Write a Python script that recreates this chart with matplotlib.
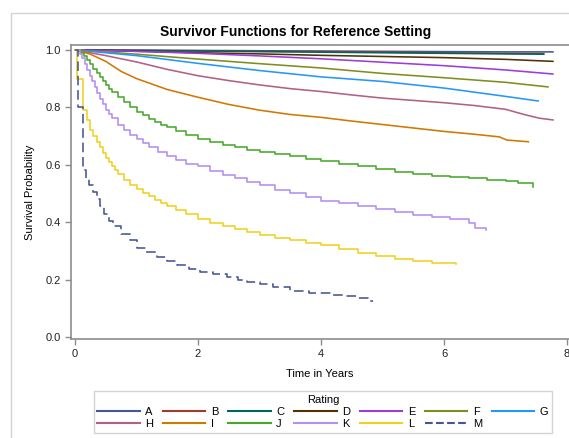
"""Survivor functions by rating (reference setting) - step curves."""
import matplotlib
matplotlib.use("Agg")
import matplotlib.pyplot as plt
from matplotlib.lines import Line2D
from matplotlib.patches import Rectangle

plt.rcParams["font.family"] = ["Liberation Sans", "DejaVu Sans"]

RATINGS = ["A", "B", "C", "D", "E", "F", "G", "H", "I", "J", "K", "L", "M"]
COLORS = ["#445694", "#A23A2E", "#01665E", "#543005", "#9D3CDB", "#7F8E1F",
          "#2597FA", "#B26084", "#D17800", "#47A82A", "#B38EF3", "#F0D020",
          "#445694"]
# curves whose steps are big enough to see
STEPPED = ["J", "K", "L", "M"]

# points (time in years, survival)
t_A = [0, 1, 2, 3, 4, 5, 6, 7, 7.77]
s_A = [1.0, 0.999, 0.998, 0.997, 0.996, 0.995, 0.994, 0.993, 0.993]
t_B = [0, 1, 2, 3, 4, 5, 6, 7, 7.62]
s_B = [1.0, 0.998, 0.997, 0.995, 0.994, 0.992, 0.990, 0.988, 0.987]
t_C = [0, 1, 2, 3, 4, 5, 6, 7, 7.62]
s_C = [1.0, 0.998, 0.996, 0.994, 0.992, 0.990, 0.988, 0.986, 0.985]
t_D = [0, 1, 2, 3, 4, 5, 6, 7, 7.77]
s_D = [1.0, 0.995, 0.990, 0.986, 0.981, 0.977, 0.973, 0.967, 0.960]
t_E = [0, 1, 2, 3, 4, 5, 6, 7, 7.77]
s_E = [1.0, 0.995, 0.988, 0.979, 0.969, 0.957, 0.945, 0.930, 0.916]
t_F = [0, 1, 2, 3, 4, 5, 6, 7, 7.69]
s_F = [1.0, 0.985, 0.968, 0.952, 0.937, 0.918, 0.903, 0.887, 0.871]
t_G = [0, 1, 2, 3, 4, 5, 6, 7, 7.53]
s_G = [1.0, 0.980, 0.953, 0.928, 0.906, 0.890, 0.867, 0.838, 0.822]
t_H = [0, 0.5, 1, 1.5, 2, 2.5, 3, 3.5, 4, 4.5, 5, 5.5, 6, 6.5, 7, 7.3, 7.55, 7.77]
s_H = [1.0, 0.980, 0.958, 0.932, 0.910, 0.893, 0.878, 0.865, 0.855, 0.843,
       0.832, 0.824, 0.816, 0.806, 0.793, 0.775, 0.762, 0.756]
t_I = [0, 0.25, 0.5, 0.75, 1, 1.5, 2, 2.5, 3, 3.5, 4, 4.5, 5, 5.5, 6, 6.5,
       6.9, 7.02, 7.37]
s_I = [1.0, 0.985, 0.960, 0.925, 0.900, 0.862, 0.835, 0.810, 0.790, 0.775,
       0.765, 0.752, 0.740, 0.728, 0.716, 0.706, 0.697, 0.686, 0.680]
t_J = [0, 0.1, 0.15, 0.2, 0.25, 0.3, 0.35, 0.4, 0.45, 0.5, 0.55, 0.6, 0.7,
       0.8, 0.9, 1.0, 1.1, 1.2, 1.3, 1.4, 1.5, 1.65, 1.8, 2.0, 2.2, 2.4, 2.6,
       2.8, 3.0, 3.25, 3.5, 3.75, 4.0, 4.3, 4.6, 4.9, 5.2, 5.5, 5.8, 6.1,
       6.4, 6.7, 7.0, 7.2, 7.45]
s_J = [1.0, 0.99, 0.98, 0.965, 0.95, 0.935, 0.92, 0.905, 0.89, 0.877,
       0.865, 0.853, 0.835, 0.818, 0.80, 0.785, 0.772, 0.76, 0.75, 0.74,
       0.73, 0.717, 0.705, 0.69, 0.678, 0.668, 0.66, 0.652, 0.645, 0.637,
       0.63, 0.621, 0.612, 0.603, 0.594, 0.584, 0.575, 0.568, 0.562, 0.557,
       0.553, 0.548, 0.543, 0.535, 0.523]
t_K = [0, 0.08, 0.12, 0.16, 0.2, 0.24, 0.28, 0.32, 0.36, 0.4, 0.45, 0.5,
       0.55, 0.6, 0.7, 0.8, 0.9, 1.0, 1.1, 1.2, 1.35, 1.5, 1.65, 1.8, 2.0,
       2.2, 2.4, 2.6, 2.8, 3.0, 3.25, 3.5, 3.75, 4.0, 4.3, 4.6, 4.9, 5.2,
       5.5, 5.8, 6.1, 6.4, 6.5, 6.68]
s_K = [1.0, 0.985, 0.97, 0.95, 0.93, 0.91, 0.89, 0.87, 0.85, 0.83, 0.81,
       0.792, 0.776, 0.762, 0.74, 0.72, 0.703, 0.688, 0.675, 0.663, 0.646,
       0.63, 0.617, 0.604, 0.595, 0.578, 0.565, 0.553, 0.54, 0.528, 0.513,
       0.5, 0.487, 0.475, 0.465, 0.455, 0.445, 0.434, 0.426, 0.418, 0.41,
       0.398, 0.38, 0.373]
t_L = [0, 0.03, 0.13, 0.2, 0.25, 0.3, 0.35, 0.4, 0.45, 0.5, 0.55, 0.6, 0.65,
       0.7, 0.8, 0.9, 1.0, 1.1, 1.2, 1.3, 1.4, 1.5, 1.65, 1.8, 2.0, 2.2, 2.4,
       2.6, 2.8, 3.0, 3.25, 3.5, 3.75, 4.0, 4.3, 4.6, 4.9, 5.2, 5.5, 5.8,
       6.19]
s_L = [1.0, 0.9, 0.79, 0.755, 0.72, 0.70, 0.68, 0.66, 0.64, 0.625, 0.61,
       0.595, 0.58, 0.568, 0.548, 0.53, 0.515, 0.502, 0.49, 0.478, 0.467,
       0.457, 0.443, 0.43, 0.412, 0.397, 0.385, 0.375, 0.365, 0.355, 0.345,
       0.337, 0.328, 0.32, 0.305, 0.293, 0.283, 0.272, 0.264, 0.256, 0.254]
t_M = [0, 0.05, 0.13, 0.18, 0.23, 0.3, 0.35, 0.4, 0.47, 0.55, 0.62, 0.75,
       0.9, 1.0, 1.15, 1.33, 1.5, 1.66, 1.85, 2.03, 2.25, 2.47, 2.65, 2.8,
       3.0, 3.22, 3.5, 3.8, 4.15, 4.4, 4.59, 4.77, 4.85]
s_M = [1.0, 0.8, 0.58, 0.555, 0.53, 0.505, 0.48, 0.455, 0.43, 0.405, 0.385,
       0.36, 0.338, 0.31, 0.295, 0.28, 0.265, 0.25, 0.237, 0.225, 0.218,
       0.21, 0.2, 0.19, 0.183, 0.175, 0.16, 0.152, 0.146, 0.143, 0.137,
       0.127, 0.127]

TIMES = [t_A, t_B, t_C, t_D, t_E, t_F, t_G, t_H, t_I, t_J, t_K, t_L, t_M]
SURV = [s_A, s_B, s_C, s_D, s_E, s_F, s_G, s_H, s_I, s_J, s_K, s_L, s_M]

W, H = 569, 438
fig = plt.figure(figsize=(W / 100, H / 100), dpi=100)
fig.add_artist(Rectangle((11 / W, -0.05), 1.2, (H - 13) / H + 0.05,
                         transform=fig.transFigure, fill=False,
                         edgecolor="#d4d4d4", lw=1.0))

ax = fig.add_axes([71 / W, 99 / H, 509 / W, 294 / H])
handles = {}
for name, col, t, s in zip(RATINGS, COLORS, TIMES, SURV):
    ls = (0, (6, 3)) if name == "M" else "-"
    ds = "steps-post" if name in STEPPED else "default"
    ln, = ax.plot(t, s, drawstyle=ds, color=col, lw=1.15, ls=ls)
    handles[name] = ln

ax.set_xlim(-0.065, 8.21)
ax.set_ylim(-0.007, 1.017)
ax.set_xticks([0, 2, 4, 6, 8])
ax.set_yticks([0.0, 0.2, 0.4, 0.6, 0.8, 1.0])
ax.set_yticklabels(["0.0", "0.2", "0.4", "0.6", "0.8", "1.0"])
for sp in ax.spines.values():
    sp.set_color("#8c8c8c")
    sp.set_linewidth(1.2)
ax.tick_params(colors="#8c8c8c", labelcolor="#222222", labelsize=8,
               length=4, width=1)

fig.text(296 / W, 1 - 32 / H, "Survivor Functions for Reference Setting",
         ha="center", va="center", fontsize=10, fontweight="bold")
fig.text(320 / W, 1 - 374 / H, "Time in Years", ha="center", va="center",
         fontsize=8)
fig.text(30 / W, 1 - 192 / H, "Survival Probability", ha="center",
         va="center", rotation=90, fontsize=8)

# legend fills column-first, so interleave rows to read A..G / H..M
order = ["A", "H", "B", "I", "C", "J", "D", "K", "E", "L", "F", "M", "G"]
leg_h = [Line2D([0], [0], color=handles[n].get_color(), lw=1.5,
                ls=handles[n].get_linestyle()) for n in order]
leg = fig.legend(leg_h, order, ncol=7, title="Rating", fontsize=8,
                 title_fontsize=8, loc="center",
                 bbox_to_anchor=(323 / W, 1 - 412 / H),
                 frameon=True, fancybox=False, edgecolor="#c8c8c8",
                 handlelength=3.8, handletextpad=0.5, columnspacing=0.9,
                 borderpad=0.35, labelspacing=0.15, borderaxespad=0)
leg.get_frame().set_linewidth(1.0)

fig.savefig("out.png", dpi=100)
